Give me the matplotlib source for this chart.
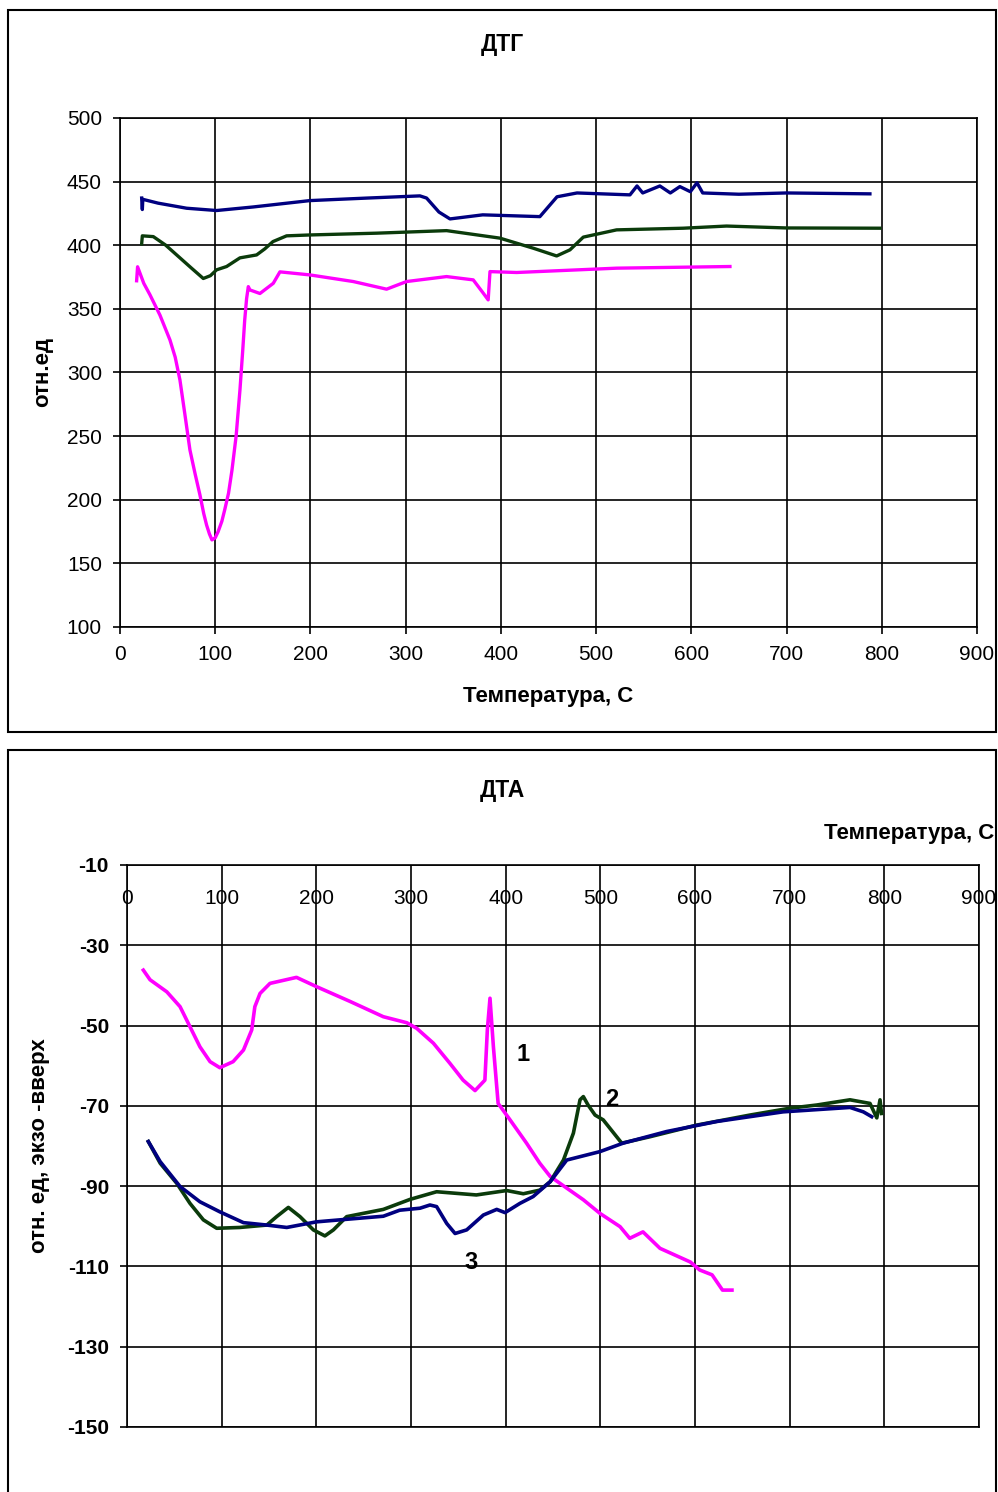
"""
DTG / DTA thermal analysis curves (two stacked Excel-style panels).
Values read off the reference picture by hand.
"""

import matplotlib
matplotlib.use("Agg")
import matplotlib.pyplot as plt
from matplotlib.patches import Rectangle

plt.rcParams["font.family"] = ["Liberation Sans", "DejaVu Sans"]
plt.rcParams["axes.unicode_minus"] = False   # Excel prints a plain hyphen

PINK = "#FF00FF"
NAVY = "#000080"
GREEN = "#0b3b0b"

# ---- DTG (top panel) ----
dtg_navy_t = [22.8, 23.5, 24, 40, 70, 101.5, 140, 199.5, 260, 315, 322, 335, 346.6,
              381, 441, 459, 480, 535.6, 543, 549, 567, 578, 588, 599, 606, 612, 650, 700, 787.6]
dtg_navy_v = [437, 428, 436, 433, 429, 427.2, 430, 435, 437, 438.7, 437, 426, 420.6,
              423.8, 422.4, 438, 441, 439.5, 446.5, 441, 446.5, 441, 446, 442, 449, 441, 440, 441, 440.3]

dtg_green_t = [22.8, 23.5, 35, 48, 60, 75, 87.5, 95, 101.5, 112, 126, 143.5, 152, 160.7, 175,
               199.5, 269.6, 343, 399, 434, 458.6, 472.6, 486.6, 521.6, 591.5, 637, 700, 798]
dtg_green_v = [401, 407.3, 406.7, 400, 392, 382, 373.8, 376, 380.6, 383.2, 390, 392.3, 397,
               402.8, 407.3, 408, 409.4, 411.4, 405.5, 397.6, 391.5, 396.3, 406.3, 412, 413.3,
               415, 413.5, 413.3]

dtg_pink_t = [17.5, 18.5, 25, 31.5, 42, 52.5, 58, 63, 68, 73.5, 79, 84, 88, 91, 94, 96.6, 100,
              103, 107, 110, 114, 117.6, 122, 126, 129, 131, 133, 134.8, 136.5, 147, 161,
              168, 199.5, 245, 280, 301, 343, 371, 381.6, 386.7, 388.6, 416.6, 521.6, 640.6]
dtg_pink_v = [372, 383, 370, 361, 345, 325.5, 312, 294, 268, 239, 220, 203.7, 189, 180, 173,
              168.4, 170, 174.7, 183, 192, 205, 223, 250, 286, 318, 341, 358, 367.4, 364.8,
              362, 370, 379, 376.6, 371.4, 365.4, 371.4, 375.3, 372.7, 362.2, 357, 379.2,
              378.5, 381.9, 383.2]

# ---- DTA (bottom panel) ----
dta_pink_t = [17.2, 24.3, 42, 56, 66.5, 77, 87.7, 98, 112, 123, 131.7, 135, 140.5, 151, 179,
              200, 235.6, 270.7, 295.5, 306, 323.6, 341, 355, 367.6, 378, 380.6, 383.4, 387,
              392, 404.6, 422, 436, 447, 482, 499.6, 520.8, 531, 545, 563, 579, 595, 605,
              618, 629, 639]
dta_pink_v = [-36.2, -38.6, -41.6, -45.3, -50.3, -55.3, -59, -60.5, -59, -56.1, -51.1, -45.3,
              -42, -39.5, -38, -40.3, -44, -47.8, -49.3, -50.7, -54.4, -59.4, -63.6, -66.2,
              -63.6, -51.1, -43.2, -55.3, -69.4, -73.5, -79.3, -84.3, -87.6, -93.4, -96.8,
              -100.1, -103, -101.4, -105.5, -107.2, -108.9, -110.9, -112.1, -115.9, -115.9]

dta_green_t = [22.5, 35, 52.5, 66.5, 80.6, 94.7, 119, 147.6, 158, 170.4, 182.7, 196.8, 209,
               218, 232, 270.7, 299, 327, 369, 401, 418.6, 436, 447, 461, 471.5, 478.5,
               482, 487, 494.4, 503, 522.6, 552.4, 601.8, 658, 700, 728.5, 763.7, 784.8,
               792, 795.4, 797]
dta_green_v = [-78.9, -84.3, -89.3, -94.3, -98.4, -100.5, -100.3, -99.7, -97.6, -95.3, -97.6,
               -100.9, -102.4, -100.9, -97.6, -95.8, -93.3, -91.4, -92.2, -91.1, -91.9, -91,
               -88.9, -83.5, -76.8, -68.5, -67.7, -69.8, -72.3, -73.5, -79.3, -77.7, -74.8,
               -72.3, -70.6, -69.8, -68.5, -69.4, -73, -68.5, -71.9]

dta_navy_t = [22.5, 35, 56, 77, 98, 123, 147.6, 168.7, 200, 225, 270.7, 288, 309.5, 320, 327,
              337.7, 346.5, 358.8, 376.4, 390.5, 399.3, 415, 429, 447, 464.5, 499.6, 524,
              570, 623, 693, 763.7, 777.8, 786.6]
dta_navy_v = [-78.9, -83.9, -90.1, -93.9, -96.4, -99.1, -99.7, -100.3, -98.9, -98.4, -97.5,
              -96, -95.5, -94.7, -95.1, -99.3, -101.8, -100.9, -97.2, -95.8, -96.6, -94.3,
              -92.6, -88.9, -83.5, -81.4, -79.3, -76.4, -73.9, -71.5, -70.4, -71.5, -72.7]

curve_labels = ["1", "2", "3"]
curve_label_t = [418, 512, 363]
curve_label_v = [-57.3, -68.3, -109.1]

x_ticks = list(range(0, 1000, 100))
dtg_y_ticks = list(range(100, 550, 50))
dta_y_ticks = list(range(-10, -160, -20))

FS_TICK = 15
FS_LABEL = 16
FS_TITLE = 16.5


def _style(ax):
    ax.grid(True, color="black", linewidth=1.2)
    ax.set_axisbelow(True)
    for s in ax.spines.values():
        s.set_color("black")
        s.set_linewidth(1.2)


fig = plt.figure(figsize=(9.98, 14.92), dpi=100)

# panel frames
fig.add_artist(Rectangle((0.008, 0.5094), 0.990, 0.4839, transform=fig.transFigure,
                         fill=False, edgecolor="black", linewidth=1.5))
fig.add_artist(Rectangle((0.008, -0.01), 0.990, 0.5073, transform=fig.transFigure,
                         fill=False, edgecolor="black", linewidth=1.5))

# ---- top: DTG ----
ax1 = fig.add_axes([0.1202, 0.5798, 0.8587, 0.3412])
ax1.plot(dtg_navy_t, dtg_navy_v, color=NAVY, lw=2.4)
ax1.plot(dtg_green_t, dtg_green_v, color=GREEN, lw=2.4)
ax1.plot(dtg_pink_t, dtg_pink_v, color=PINK, lw=2.4)
ax1.set_xlim(0, 900)
ax1.set_ylim(100, 500)
ax1.set_xticks(x_ticks)
ax1.set_yticks(dtg_y_ticks)
ax1.tick_params(labelsize=FS_TICK, length=5, width=1.2, pad=8)
_style(ax1)
ax1.set_xlabel("Температура, С", fontsize=FS_LABEL, fontweight="bold", labelpad=16)
ax1.set_ylabel("отн.ед", fontsize=FS_LABEL, fontweight="bold", labelpad=10)
fig.text(0.503, 1 - 45 / 1492, "ДТГ", fontsize=FS_TITLE, fontweight="bold",
         ha="center", va="center")

# ---- bottom: DTA ----
ax2 = fig.add_axes([0.1273, 0.04357, 0.8537, 0.3767])
ax2.plot(dta_pink_t, dta_pink_v, color=PINK, lw=2.6)
ax2.plot(dta_green_t, dta_green_v, color=GREEN, lw=2.6)
ax2.plot(dta_navy_t, dta_navy_v, color=NAVY, lw=2.6)
for lab, t, v in zip(curve_labels, curve_label_t, curve_label_v):
    ax2.text(t, v, lab, fontsize=17, fontweight="bold", ha="center", va="center")
ax2.set_xlim(0, 900)
ax2.set_ylim(-150, -10)
ax2.set_xticks(x_ticks)
ax2.set_yticks(dta_y_ticks)
ax2.xaxis.tick_top()
ax2.tick_params(axis="x", labelsize=FS_TICK, length=0, pad=-31)
ax2.tick_params(axis="y", labelsize=FS_TICK, length=5, width=1.2, pad=8)
for lbl in ax2.get_yticklabels():
    lbl.set_fontweight("bold")
_style(ax2)
ax2.set_ylabel("отн. ед, экзо -вверх", fontsize=FS_LABEL, fontweight="bold", labelpad=12)
fig.text(0.503, 1 - 790 / 1492, "ДТА", fontsize=FS_TITLE, fontweight="bold",
         ha="center", va="center")
fig.text(0.996, 1 - 833 / 1492, "Температура, С", fontsize=FS_LABEL, fontweight="bold",
         ha="right", va="center")

fig.savefig("out.png", dpi=100)
